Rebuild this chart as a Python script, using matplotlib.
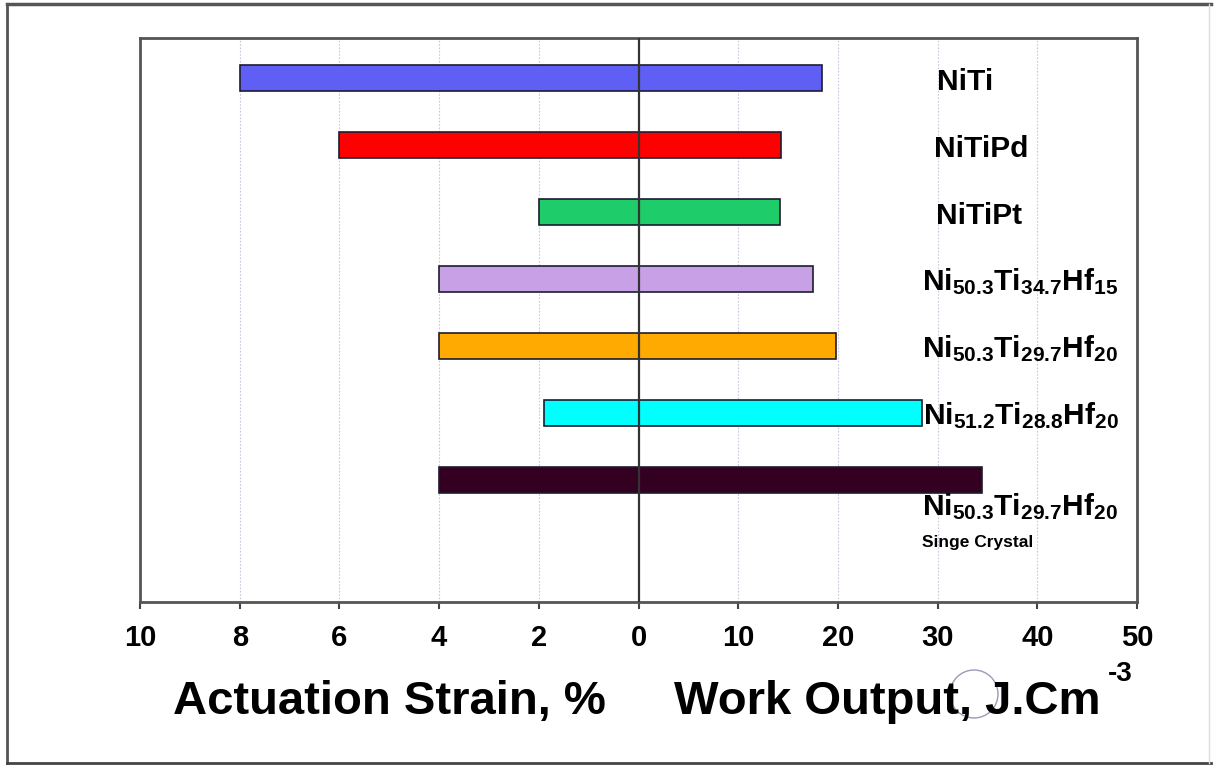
import numpy as np
import matplotlib
matplotlib.use('Agg')
from matplotlib import pyplot as plt
from matplotlib.lines import Line2D
from matplotlib.patches import Ellipse

plt.rcParams['font.family'] = ['Liberation Sans', 'DejaVu Sans']
plt.rcParams['font.weight'] = 'bold'
plt.rcParams['mathtext.fontset'] = 'custom'
plt.rcParams['mathtext.rm'] = 'Liberation Sans:bold'
plt.rcParams['mathtext.it'] = 'Liberation Sans:bold'
plt.rcParams['mathtext.bf'] = 'Liberation Sans:bold'
plt.rcParams['mathtext.default'] = 'rm'

# data
alloys = [r'NiTi', r'NiTiPd', r'NiTiPt',
          r'$\mathrm{Ni_{50.3}Ti_{34.7}Hf_{15}}$',
          r'$\mathrm{Ni_{50.3}Ti_{29.7}Hf_{20}}$',
          r'$\mathrm{Ni_{51.2}Ti_{28.8}Hf_{20}}$',
          r'$\mathrm{Ni_{50.3}Ti_{29.7}Hf_{20}}$']
strain = [8.0, 6.0, 2.0, 4.0, 4.0, 1.9, 4.0]          # actuation strain, %
work = [18.4, 14.3, 14.2, 17.5, 19.8, 28.4, 34.5]     # work output, J/cm3
colors = ['#5f5ff5', '#ff0000', '#1ecc6a', '#c8a0e6', '#ffaa00', '#00ffff', '#330022']
strain_ticks = [10, 8, 6, 4, 2]
work_ticks = [0, 10, 20, 30, 40, 50]

k = 5.0  # 1 % strain drawn as 5 units of work on the shared axis

fig = plt.figure(figsize=(12.15, 7.65), dpi=100)
ax = fig.add_axes([140/1215, 1-602/765, 997/1215, 564/765])

y = np.arange(len(alloys))
s = np.array(strain)*k
ax.barh(y, -s, height=0.39, color=colors, edgecolor='#1c1c30', linewidth=1.2, zorder=2)
ax.barh(y, work, height=0.39, color=colors, edgecolor='#1c1c30', linewidth=1.2, zorder=2)
ax.axvline(0, color='#333333', lw=1.6, zorder=3)

ax.set_xlim(-50, 50)
ax.set_ylim(7.82, -0.6)
pos = [-t*k for t in strain_ticks] + work_ticks
labs = [str(t) for t in strain_ticks] + [str(t) for t in work_ticks]
ax.set_xticks(pos)
ax.set_xticklabels(labs, fontsize=21, fontweight='bold')
ax.set_yticks([])
ax.tick_params(axis='x', direction='out', length=5, width=1.5, pad=11, color='#444444')
for p in pos:
    if p != 0:
        ax.axvline(p, color='#c8c8dc', lw=0.8, ls=(0, (1.5, 1.5)), zorder=1)
for sp in ax.spines.values():
    sp.set_color('#555555')
    sp.set_linewidth(2)

# alloy names at the right
xs = [29.9, 29.6, 29.8, 28.4, 28.4, 28.5, 28.4]
for i, name in enumerate(alloys):
    dy = 0.52 if i == 6 else 0.17
    ax.text(xs[i], i + dy, name, fontsize=21.5, fontweight='bold', ha='left', va='baseline')
ax.text(28.4, 6 + 1.0, 'Singe Crystal', fontsize=12.5, fontweight='bold', ha='left', va='baseline')

# axis titles
fig.text(173/1215, 1-714/765, 'Actuation Strain, %', fontsize=34, fontweight='bold', va='baseline')
fig.text(674/1215, 1-714/765, 'Work Output, J.Cm', fontsize=34, fontweight='bold', va='baseline')
fig.text(1108/1215, 1-681/765, '-3', fontsize=20, fontweight='bold', va='baseline')

# faint ring and outer frame seen in the image
fig.add_artist(Ellipse((974/1215, 1-694/765), 48/1215, 48/765, transform=fig.transFigure,
                       fill=False, edgecolor='#9a9ab4', lw=1.0))
fig.add_artist(Line2D([7/1215, 1211/1215], [1-4/765, 1-4/765], color='#555555', lw=2.5))
fig.add_artist(Line2D([7/1215, 7/1215], [1-4/765, 1-763/765], color='#555555', lw=2))
fig.add_artist(Line2D([7/1215, 1211/1215], [1-763/765, 1-763/765], color='#444444', lw=2))
fig.add_artist(Line2D([1209/1215, 1209/1215], [1-4/765, 1-763/765], color='#dddddd', lw=1))

plt.savefig('out.png', dpi=100)
